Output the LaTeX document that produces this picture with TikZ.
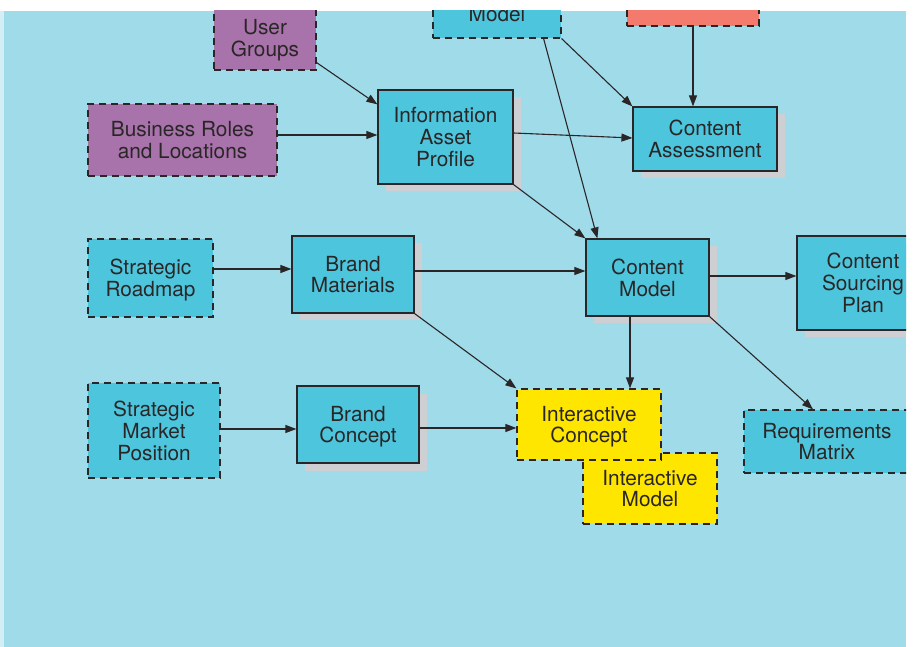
\documentclass[tikz,border=0pt]{standalone}
\usepackage{fontspec}
\setmainfont{TeX Gyre Heros}
\usetikzlibrary{arrows.meta,shadows}
\definecolor{bgblue}{HTML}{A0DBEA}
\definecolor{bgstrip}{HTML}{D3EEF5}
\definecolor{nodecyan}{HTML}{4DC5DC}
\definecolor{nodepurple}{HTML}{A872AA}
\definecolor{nodesalmon}{HTML}{F47A6E}
\definecolor{nodeyellow}{HTML}{FFE600}
\definecolor{shadowgray}{HTML}{CDCFD3}
\definecolor{inkdark}{HTML}{2A2627}
\begin{document}
\begin{tikzpicture}[x=1pt,y=-1pt,
  box/.style={rectangle, draw=inkdark, line width=1.2pt, text=inkdark, align=center,
    inner sep=0pt, text depth=0pt, font=\fontsize{20.8}{21.8}\selectfont},
  solidbox/.style={box, fill=nodecyan,
    drop shadow={shadow xshift=7.5pt, shadow yshift=-7.5pt, fill=shadowgray, opacity=1}},
  dashbox/.style={box, dash pattern=on 7pt off 5pt},
  arr/.style={draw=inkdark, line width=1.1pt, -{Triangle[length=11pt,width=8pt]}}
]
\useasboundingbox (0,0) rectangle (914,647);
\fill[bgstrip] (0,11) rectangle (4,647);
\fill[bgblue] (4,11) rectangle (906,647);
\begin{scope}
\clip (0,11) rectangle (906,647);
% nodes
\node[dashbox, fill=nodepurple, minimum width=102pt, minimum height=64pt] (ug) at (265,38) {User\\Groups};
\node[dashbox, fill=nodepurple, minimum width=189pt, minimum height=72pt] (br) at (182.5,140) {Business Roles\\and Locations};
\node[dashbox, fill=nodecyan, minimum width=128pt, minimum height=48pt] (model) at (497,14) {Model};
\node[dashbox, fill=nodesalmon, minimum width=132pt, minimum height=56pt] (red) at (693,-2) {};
\node[solidbox, minimum width=135pt, minimum height=94pt] (iap) at (445.5,137) {Information\\Asset\\Profile};
\node[solidbox, minimum width=144pt, minimum height=64pt] (ca) at (705,139) {Content\\Assessment};
\node[dashbox, fill=nodecyan, minimum width=125pt, minimum height=78pt] (sr) at (150.5,278) {Strategic\\Roadmap};
\node[solidbox, minimum width=122pt, minimum height=77pt] (bm) at (353,274.5) {Brand\\Materials};
\node[solidbox, minimum width=123pt, minimum height=77pt] (cm) at (647.5,277.5) {Content\\Model};
\node[solidbox, minimum width=132pt, minimum height=94pt] (csp) at (863,283) {Content\\Sourcing\\Plan};
\node[dashbox, fill=nodecyan, minimum width=132pt, minimum height=95pt] (smp) at (154,430.5) {Strategic\\Market\\Position};
\node[solidbox, minimum width=122pt, minimum height=77pt] (bc) at (358,424.5) {Brand\\Concept};
\node[dashbox, fill=nodeyellow, minimum width=134pt, minimum height=71pt] (im) at (650,488.5) {Interactive\\Model};
\node[dashbox, fill=nodeyellow, minimum width=144pt, minimum height=71pt] (ic) at (589,424.5) {Interactive\\Concept};
\node[dashbox, fill=nodecyan, minimum width=166pt, minimum height=63pt] (rm) at (827,441.5) {Requirements\\Matrix};
% connectors
\draw[arr] ([yshift=8pt]ug.south east) -- ([yshift=-15pt]iap.north west);
\draw[arr] ([yshift=5pt]br.east) -- ([yshift=2pt]iap.west);
\draw[arr] (model.south east) -- (ca.north west);
\draw[arr] ([xshift=-18pt]model.south east) -- ([xshift=12pt]cm.north west);
\draw[arr] (red.south) -- (red.south |- ca.north);
\draw[arr] ([yshift=4pt]iap.east) -- ([yshift=1pt]ca.west);
\draw[arr] (iap.south east) -- (cm.north west);
\draw[arr] ([yshift=9pt]sr.east) -- ([yshift=5.5pt]bm.west);
\draw[arr] ([yshift=3.5pt]bm.east) -- ([yshift=6.5pt]cm.west);
\draw[arr] (bm.south east) -- (ic.north west);
\draw[arr] ([yshift=1.5pt]smp.east) -- ([yshift=-4.5pt]bc.west);
\draw[arr] ([yshift=-3.5pt]bc.east) -- ([yshift=-3.5pt]ic.west);
\draw[arr] ([yshift=1.5pt]cm.east) -- ([yshift=7pt]csp.west);
\draw[arr] ([xshift=-17.5pt]cm.south) -- ([xshift=41pt]ic.north);
\draw[arr] (cm.south east) -- ([xshift=-14pt]rm.north);
\end{scope}
\end{tikzpicture}
\end{document}
